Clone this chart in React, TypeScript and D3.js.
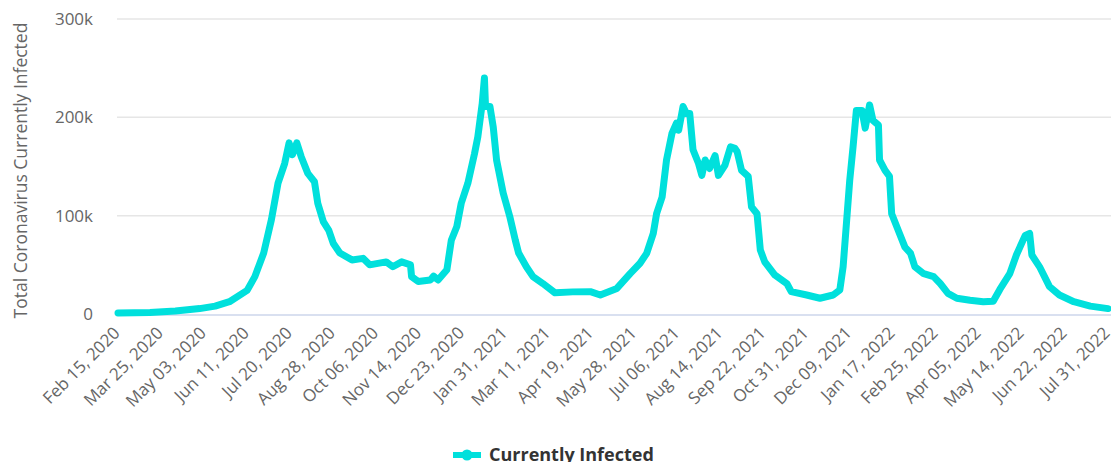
import React from "react";
import * as d3 from "d3";

// ---- data ----
const dates: string[] = [
  "2020-02-15", "2020-03-15", "2020-04-07", "2020-04-29", "2020-05-13", "2020-05-26",
  "2020-06-11", "2020-06-18", "2020-06-26", "2020-07-03", "2020-07-09", "2020-07-15",
  "2020-07-19", "2020-07-22", "2020-07-26", "2020-07-30", "2020-08-05", "2020-08-11",
  "2020-08-14", "2020-08-19", "2020-08-24", "2020-08-28", "2020-09-03", "2020-09-14",
  "2020-09-24", "2020-09-30", "2020-10-15", "2020-10-21", "2020-10-29", "2020-11-06",
  "2020-11-07", "2020-11-13", "2020-11-24", "2020-11-27", "2020-12-01", "2020-12-09",
  "2020-12-13", "2020-12-18", "2020-12-22", "2020-12-28", "2021-01-03", "2021-01-06",
  "2021-01-10", "2021-01-12", "2021-01-13", "2021-01-17", "2021-01-20", "2021-01-23",
  "2021-01-29", "2021-02-04", "2021-02-09", "2021-02-12", "2021-02-19", "2021-02-25",
  "2021-03-06", "2021-03-17", "2021-04-02", "2021-04-18", "2021-04-27", "2021-05-12",
  "2021-05-24", "2021-06-02", "2021-06-08", "2021-06-14", "2021-06-17", "2021-06-22",
  "2021-06-26", "2021-07-01", "2021-07-05", "2021-07-07", "2021-07-11", "2021-07-14",
  "2021-07-17", "2021-07-20", "2021-07-25", "2021-07-28", "2021-07-31", "2021-08-04",
  "2021-08-09", "2021-08-12", "2021-08-18", "2021-08-23", "2021-08-27", "2021-08-29",
  "2021-09-02", "2021-09-08", "2021-09-11", "2021-09-16", "2021-09-19", "2021-09-23",
  "2021-10-02", "2021-10-13", "2021-10-17", "2021-10-31", "2021-11-12", "2021-11-24",
  "2021-11-30", "2021-12-03", "2021-12-06", "2021-12-09", "2021-12-12", "2021-12-15",
  "2021-12-20", "2021-12-23", "2021-12-27", "2021-12-30", "2022-01-04", "2022-01-05",
  "2022-01-10", "2022-01-14", "2022-01-16", "2022-01-22", "2022-01-28", "2022-02-02",
  "2022-02-06", "2022-02-14", "2022-02-23", "2022-03-01", "2022-03-08", "2022-03-16",
  "2022-03-28", "2022-04-09", "2022-04-18", "2022-04-24", "2022-05-03", "2022-05-09",
  "2022-05-17", "2022-05-21", "2022-05-23", "2022-05-30", "2022-06-08", "2022-06-17",
  "2022-06-30", "2022-07-15", "2022-07-31",
];

const currentlyInfected: number[] = [
  1000, 1500, 3000, 5500, 8000, 12500,
  24000, 38000, 62000, 96000, 133000, 153000,
  174000, 162000, 174000, 160000, 143000, 134500,
  112600, 94000, 85000, 72000, 62000, 55000,
  56600, 50000, 53000, 48000, 53000, 50000,
  38000, 33000, 34600, 38500, 34600, 45000,
  75000, 89000, 112600, 133000, 163000, 180000,
  214000, 240000, 211000, 211000, 190000, 156600,
  123000, 99000, 75000, 62000, 48000, 38000,
  31000, 21500, 22500, 22700, 19300, 26000,
  41000, 51600, 61700, 82000, 102000, 119000,
  156600, 184000, 194000, 187000, 211000, 204000,
  204000, 167000, 153000, 141000, 156600, 148000,
  161000, 141000, 151500, 170000, 168500, 165000,
  146000, 140000, 109000, 102000, 65000, 53000,
  39700, 31000, 22700, 19300, 16000, 19300,
  24400, 48000, 92000, 136000, 170000, 207000,
  207000, 189000, 212600, 197000, 192000, 156600,
  146000, 140000, 102000, 85000, 68000, 62000,
  48000, 41000, 38000, 31000, 21000, 16000,
  14000, 12500, 13000, 25000, 41000, 60000,
  80000, 82000, 60000, 48000, 27800, 19300,
  12500, 8000, 5500,
];

const tickDates: string[] = [
  "2020-02-15", "2020-03-25", "2020-05-03", "2020-06-11", "2020-07-20", "2020-08-28",
  "2020-10-06", "2020-11-14", "2020-12-23", "2021-01-31", "2021-03-11", "2021-04-19",
  "2021-05-28", "2021-07-06", "2021-08-14", "2021-09-22", "2021-10-31", "2021-12-09",
  "2022-01-17", "2022-02-25", "2022-04-05", "2022-05-14", "2022-06-22", "2022-07-31",
];

const yTicks: number[] = [0, 100000, 200000, 300000];
const seriesName = "Currently Infected";
const yTitle = "Total Coronavirus Currently Infected";

// ---- layout ----
const W = 1111;
const H = 462;
const left = 118;
const right = 1108;
const top = 19;
const bottom = 314;
const LINE = "#00e0dc";
const FONT = "'Open Sans', 'DejaVu Sans', sans-serif";

export default function App() {
  const parse = d3.utcParse("%Y-%m-%d");
  const fmt = d3.utcFormat("%b %d, %Y");
  const x = d3
    .scaleUtc()
    .domain([parse(tickDates[0])!, parse(tickDates[tickDates.length - 1])!])
    .range([left, right]);
  const y = d3.scaleLinear().domain([0, 300000]).range([bottom, top]);

  const pts = dates.map((d, i) => ({ d: parse(d)!, v: currentlyInfected[i] }));
  const path = d3
    .line<{ d: Date; v: number }>()
    .x((p) => x(p.d))
    .y((p) => y(p.v))(pts)!;

  const yfmt = (v: number) => (v === 0 ? "0" : `${v / 1000}k`);

  return (
    <svg
      width={W}
      height={H}
      style={{ position: "absolute", left: 0, top: 0, background: "#fff" }}
      fontFamily={FONT}
    >
      {/* grid */}
      {yTicks.map((t) =>
        t === 0 ? null : (
          <line key={t} x1={left - 1} x2={W} y1={y(t)} y2={y(t)} stroke="#e6e6e6" strokeWidth={1.5} />
        )
      )}
      {/* x axis line */}
      <line x1={left - 1} x2={W} y1={bottom + 1} y2={bottom + 1} stroke="#ccd6eb" strokeWidth={1.5} />

      {/* y tick labels */}
      {yTicks.map((t) => (
        <text key={t} x={93} y={y(t) + 6} textAnchor="end" fontSize={17} fill="#666">
          {yfmt(t)}
        </text>
      ))}

      {/* y title */}
      <text
        transform={`translate(27, ${(top + bottom) / 2 + 4}) rotate(-90)`}
        textAnchor="middle"
        fontSize={17.5}
        fill="#666"
      >
        {yTitle}
      </text>

      {/* x tick labels */}
      {tickDates.map((t) => {
        const px = x(parse(t)!) + 3;
        const py = 334;
        return (
          <text
            key={t}
            transform={`translate(${px}, ${py}) rotate(-45)`}
            textAnchor="end"
            fontSize={17}
            fill="#666"
          >
            {fmt(parse(t)!)}
          </text>
        );
      })}

      {/* series line */}
      <path d={path} fill="none" stroke={LINE} strokeWidth={7} strokeLinejoin="round" strokeLinecap="round" />

      {/* legend */}
      <g>
        <line x1={453} x2={481} y1={455} y2={455} stroke={LINE} strokeWidth={6} />
        <circle cx={467} cy={455} r={5.5} fill={LINE} />
        <text x={489} y={461} fontSize={18} fontWeight="bold" fill="#333">
          {seriesName}
        </text>
      </g>
    </svg>
  );
}
